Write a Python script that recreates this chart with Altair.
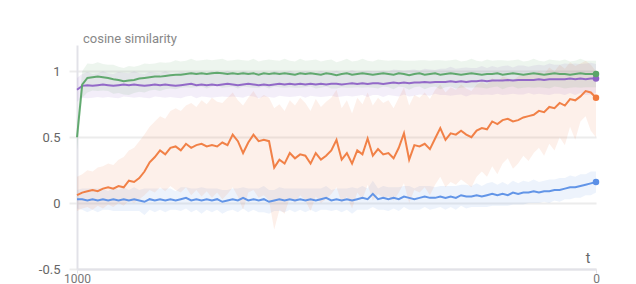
import altair as alt
import pandas as pd

# timestep t (reversed axis, 1000 -> 0)
t = list(range(1000, -1, -10))

orange_mean = [0.06,0.08,0.09,0.10,0.09,0.11,0.12,0.11,0.13,0.12,
 0.17,0.16,0.19,0.24,0.31,0.35,0.40,0.37,0.42,0.43,
 0.40,0.45,0.42,0.44,0.45,0.43,0.44,0.43,0.46,0.44,
 0.52,0.47,0.38,0.46,0.52,0.47,0.48,0.47,0.27,0.33,
 0.30,0.38,0.34,0.37,0.36,0.30,0.38,0.33,0.36,0.40,
 0.48,0.33,0.38,0.30,0.40,0.37,0.49,0.36,0.41,0.37,
 0.38,0.34,0.42,0.53,0.33,0.44,0.43,0.45,0.41,0.49,
 0.57,0.48,0.53,0.52,0.55,0.52,0.50,0.55,0.57,0.56,
 0.62,0.60,0.63,0.64,0.62,0.63,0.65,0.66,0.67,0.70,
 0.69,0.73,0.72,0.76,0.74,0.79,0.78,0.81,0.85,0.84,
 0.80]
orange_hi = [0.20,0.22,0.25,0.24,0.27,0.28,0.30,0.29,0.33,0.35,
 0.40,0.42,0.47,0.52,0.58,0.62,0.66,0.64,0.70,0.72,
 0.70,0.74,0.76,0.73,0.78,0.75,0.80,0.77,0.76,0.80,
 0.84,0.78,0.74,0.80,0.85,0.79,0.82,0.80,0.72,0.75,
 0.70,0.78,0.74,0.80,0.76,0.70,0.79,0.73,0.77,0.80,
 0.86,0.72,0.78,0.68,0.80,0.75,0.84,0.74,0.80,0.76,
 0.78,0.72,0.80,0.88,0.74,0.82,0.80,0.84,0.79,0.86,
 0.90,0.84,0.88,0.86,0.90,0.87,0.85,0.90,0.92,0.90,
 0.95,0.92,0.96,0.95,0.93,0.96,0.97,0.98,0.97,1.00,
 0.98,1.03,1.00,1.05,1.02,1.07,1.04,1.06,1.08,1.05,
 1.00]
orange_lo = [-0.06,-0.04,-0.03,-0.05,-0.02,-0.04,-0.01,-0.03,0.00,-0.02,
 0.02,0.00,0.03,0.06,0.10,0.08,0.12,0.09,0.13,0.10,
 0.08,0.12,0.06,0.10,0.05,0.09,0.04,0.08,0.03,0.07,
 0.12,0.05,-0.05,0.08,0.10,0.04,0.06,0.02,-0.20,-0.05,
 -0.08,0.04,0.00,0.06,0.02,-0.06,0.05,0.00,0.03,0.07,
 0.12,0.00,0.05,-0.04,0.08,0.03,0.14,0.02,0.07,0.04,
 0.05,0.02,0.08,0.15,0.00,0.10,0.08,0.12,0.06,0.14,
 0.20,0.12,0.16,0.14,0.18,0.15,0.12,0.20,0.24,0.20,
 0.28,0.22,0.30,0.34,0.26,0.30,0.36,0.32,0.38,0.42,
 0.36,0.45,0.40,0.50,0.44,0.58,0.48,0.62,0.66,0.55,
 0.50]

blue_mean = [0.03,0.03,0.02,0.03,0.02,0.03,0.02,0.03,0.02,0.03,
 0.02,0.03,0.02,0.01,0.03,0.02,0.03,0.02,0.03,0.02,
 0.03,0.04,0.02,0.03,0.02,0.03,0.02,0.03,0.01,0.02,
 0.03,0.02,0.04,0.02,0.03,0.02,0.03,0.01,0.02,0.03,
 0.02,0.03,0.02,0.03,0.02,0.03,0.02,0.03,0.04,0.02,
 0.03,0.02,0.03,0.02,0.03,0.04,0.03,0.07,0.03,0.04,
 0.03,0.04,0.03,0.05,0.04,0.03,0.04,0.05,0.04,0.04,
 0.05,0.04,0.05,0.04,0.06,0.05,0.05,0.06,0.05,0.06,
 0.07,0.06,0.07,0.06,0.08,0.07,0.08,0.08,0.09,0.08,
 0.09,0.09,0.10,0.10,0.11,0.12,0.12,0.13,0.14,0.15,
 0.16]
blue_spread = [0.07,0.08,0.09,0.08,0.09,0.08,0.07,0.09,0.08,0.09,
 0.08,0.09,0.08,0.10,0.08,0.09,0.08,0.09,0.08,0.07,
 0.09,0.08,0.09,0.08,0.10,0.08,0.09,0.08,0.09,0.08,
 0.08,0.09,0.08,0.09,0.08,0.09,0.10,0.09,0.08,0.09,
 0.09,0.08,0.09,0.08,0.09,0.08,0.09,0.08,0.09,0.08,
 0.08,0.09,0.08,0.10,0.08,0.09,0.08,0.10,0.08,0.09,
 0.09,0.08,0.09,0.08,0.09,0.08,0.09,0.08,0.09,0.08,
 0.08,0.09,0.08,0.09,0.08,0.09,0.08,0.09,0.08,0.09,
 0.09,0.08,0.09,0.08,0.09,0.08,0.09,0.08,0.09,0.08,
 0.08,0.09,0.08,0.09,0.08,0.09,0.08,0.09,0.08,0.09,
 0.08]

green_mean = [0.50,0.90,0.95,0.955,0.96,0.955,0.95,0.94,0.935,0.925,
 0.93,0.935,0.945,0.95,0.955,0.96,0.96,0.965,0.97,0.975,
 0.975,0.98,0.985,0.98,0.985,0.98,0.985,0.99,0.985,0.98,
 0.985,0.98,0.985,0.98,0.985,0.975,0.985,0.98,0.985,0.98,
 0.985,0.98,0.975,0.985,0.98,0.985,0.98,0.975,0.985,0.98,
 0.97,0.98,0.985,0.975,0.98,0.985,0.98,0.975,0.98,0.985,
 0.98,0.975,0.985,0.98,0.97,0.98,0.985,0.975,0.98,0.985,
 0.975,0.98,0.985,0.98,0.975,0.98,0.985,0.98,0.975,0.98,
 0.98,0.985,0.975,0.98,0.985,0.98,0.975,0.98,0.985,0.98,
 0.975,0.98,0.985,0.98,0.98,0.975,0.98,0.985,0.98,0.98,
 0.98]
green_spread = [0.10,0.10,0.11,0.10,0.11,0.10,0.10,0.11,0.10,0.10,
 0.11,0.10,0.10,0.11,0.10,0.10,0.11,0.10,0.10,0.11,
 0.10,0.10,0.11,0.10,0.10,0.11,0.10,0.10,0.11,0.10,
 0.10,0.11,0.10,0.10,0.11,0.10,0.10,0.11,0.10,0.10,
 0.11,0.10,0.10,0.11,0.10,0.10,0.11,0.10,0.10,0.11,
 0.10,0.10,0.11,0.10,0.10,0.11,0.10,0.10,0.11,0.10,
 0.10,0.11,0.10,0.10,0.11,0.10,0.10,0.11,0.10,0.10,
 0.11,0.10,0.10,0.11,0.10,0.10,0.11,0.10,0.10,0.11,
 0.10,0.10,0.11,0.10,0.10,0.11,0.10,0.10,0.11,0.10,
 0.10,0.11,0.10,0.10,0.11,0.10,0.10,0.11,0.10,0.10,
 0.10]

purple_mean = [0.86,0.89,0.895,0.89,0.895,0.90,0.895,0.89,0.895,0.90,
 0.895,0.90,0.895,0.89,0.895,0.90,0.895,0.90,0.895,0.89,
 0.895,0.90,0.905,0.895,0.90,0.895,0.90,0.895,0.90,0.905,
 0.90,0.895,0.90,0.905,0.90,0.895,0.90,0.895,0.90,0.905,
 0.90,0.905,0.90,0.905,0.90,0.905,0.90,0.905,0.90,0.905,
 0.905,0.90,0.905,0.91,0.905,0.91,0.905,0.91,0.91,0.905,
 0.91,0.915,0.91,0.915,0.91,0.915,0.915,0.92,0.915,0.92,
 0.92,0.92,0.925,0.92,0.925,0.92,0.925,0.925,0.93,0.925,
 0.93,0.93,0.93,0.935,0.93,0.935,0.935,0.935,0.935,0.94,
 0.935,0.94,0.94,0.94,0.94,0.945,0.94,0.945,0.94,0.945,
 0.945]
purple_spread = [0.09,0.09,0.10,0.09,0.09,0.10,0.09,0.09,0.10,0.09,
 0.09,0.10,0.09,0.09,0.10,0.09,0.09,0.10,0.09,0.09,
 0.10,0.09,0.09,0.10,0.09,0.09,0.10,0.09,0.09,0.10,
 0.09,0.09,0.10,0.09,0.09,0.10,0.09,0.09,0.10,0.09,
 0.09,0.10,0.09,0.09,0.10,0.09,0.09,0.10,0.09,0.09,
 0.10,0.09,0.09,0.10,0.09,0.09,0.10,0.09,0.09,0.10,
 0.09,0.10,0.10,0.09,0.10,0.10,0.09,0.10,0.10,0.09,
 0.10,0.10,0.11,0.10,0.10,0.11,0.10,0.10,0.11,0.10,
 0.11,0.10,0.11,0.11,0.10,0.11,0.11,0.10,0.11,0.11,
 0.11,0.12,0.11,0.11,0.12,0.11,0.12,0.11,0.12,0.12,
 0.11]

y_ticks = [-0.5, 0, 0.5, 1]
x_ticks = [1000, 0]
y_title = "cosine similarity"
x_title = "t"

series = [
    ("blue", "#5b8fe6", blue_mean, [m - s for m, s in zip(blue_mean, blue_spread)],
     [m + s for m, s in zip(blue_mean, blue_spread)]),
    ("orange", "#f07a3e", orange_mean, orange_lo, orange_hi),
    ("purple", "#8e62c6", purple_mean, [m - s for m, s in zip(purple_mean, purple_spread)],
     [m + s for m, s in zip(purple_mean, purple_spread)]),
    ("green", "#5aa568", green_mean, [m - s for m, s in zip(green_mean, green_spread)],
     [m + s for m, s in zip(green_mean, green_spread)]),
]

x_enc = alt.X("t:Q", scale=alt.Scale(domain=[1000, 0], nice=False, zero=False),
              axis=alt.Axis(values=x_ticks, grid=False, title=None, labelFontSize=12,
                            labelColor="#777", tickSize=4, tickColor="#e2e2e8",
                            labelPadding=0, domainColor="#e2e2e8", domainWidth=2,
                            labelFont="Roboto", format="d", labelFlush=False))
y_scale = alt.Scale(domain=[-0.5, 1.2], nice=False, zero=False)
y_axis = alt.Axis(values=y_ticks, title=None, grid=True, gridColor="#ececec", gridWidth=2,
                  tickSize=8, tickColor="#ececec", tickWidth=2, labelPadding=9,
                  labelFontSize=13, labelColor="#666", domainColor="#e2e2e8",
                  domainWidth=2, labelFont="Roboto",
                  labelExpr="replace(format(datum.value, '~g'), '\u2212', '-')")

bands, lines, dots = [], [], []
for name, col, mean, lo, hi in series:
    d = pd.DataFrame({"t": t, "mean": mean, "lo": lo, "hi": hi})
    base = alt.Chart(d)
    bands.append(base.mark_area(color=col, opacity=0.11).encode(
        x=x_enc, y=alt.Y("lo:Q", scale=y_scale, axis=y_axis), y2="hi:Q"))
    lines.append(base.mark_line(color=col, strokeWidth=2, opacity=0.95).encode(
        x=x_enc, y=alt.Y("mean:Q", scale=y_scale, axis=y_axis)))
    dots.append(base.mark_circle(color=col, size=42, opacity=1).encode(
        x=x_enc, y=alt.Y("mean:Q", scale=y_scale, axis=y_axis)
    ).transform_filter(alt.datum.t == 0))

title_txt = alt.Chart(pd.DataFrame({"label": [y_title]})).mark_text(
    align="left", baseline="alphabetic", fontSize=13, color="#888", font="Roboto"
).encode(text="label:N", x=alt.value(6), y=alt.value(-2))
t_txt = alt.Chart(pd.DataFrame({"label": [x_title]})).mark_text(
    align="center", baseline="alphabetic", fontSize=14, color="#666", font="Roboto"
).encode(text="label:N", x=alt.value(511), y=alt.value(218))

chart = alt.layer(*bands, *lines, *dots, title_txt, t_txt).properties(
    width=519, height=224,
    autosize=alt.AutoSizeParams(type="none"),
    padding={"left": 69, "top": 37, "right": 32, "bottom": 16},
).configure_view(stroke=None)

chart.save("out.html", embed_options={"renderer": "svg", "actions": False})
